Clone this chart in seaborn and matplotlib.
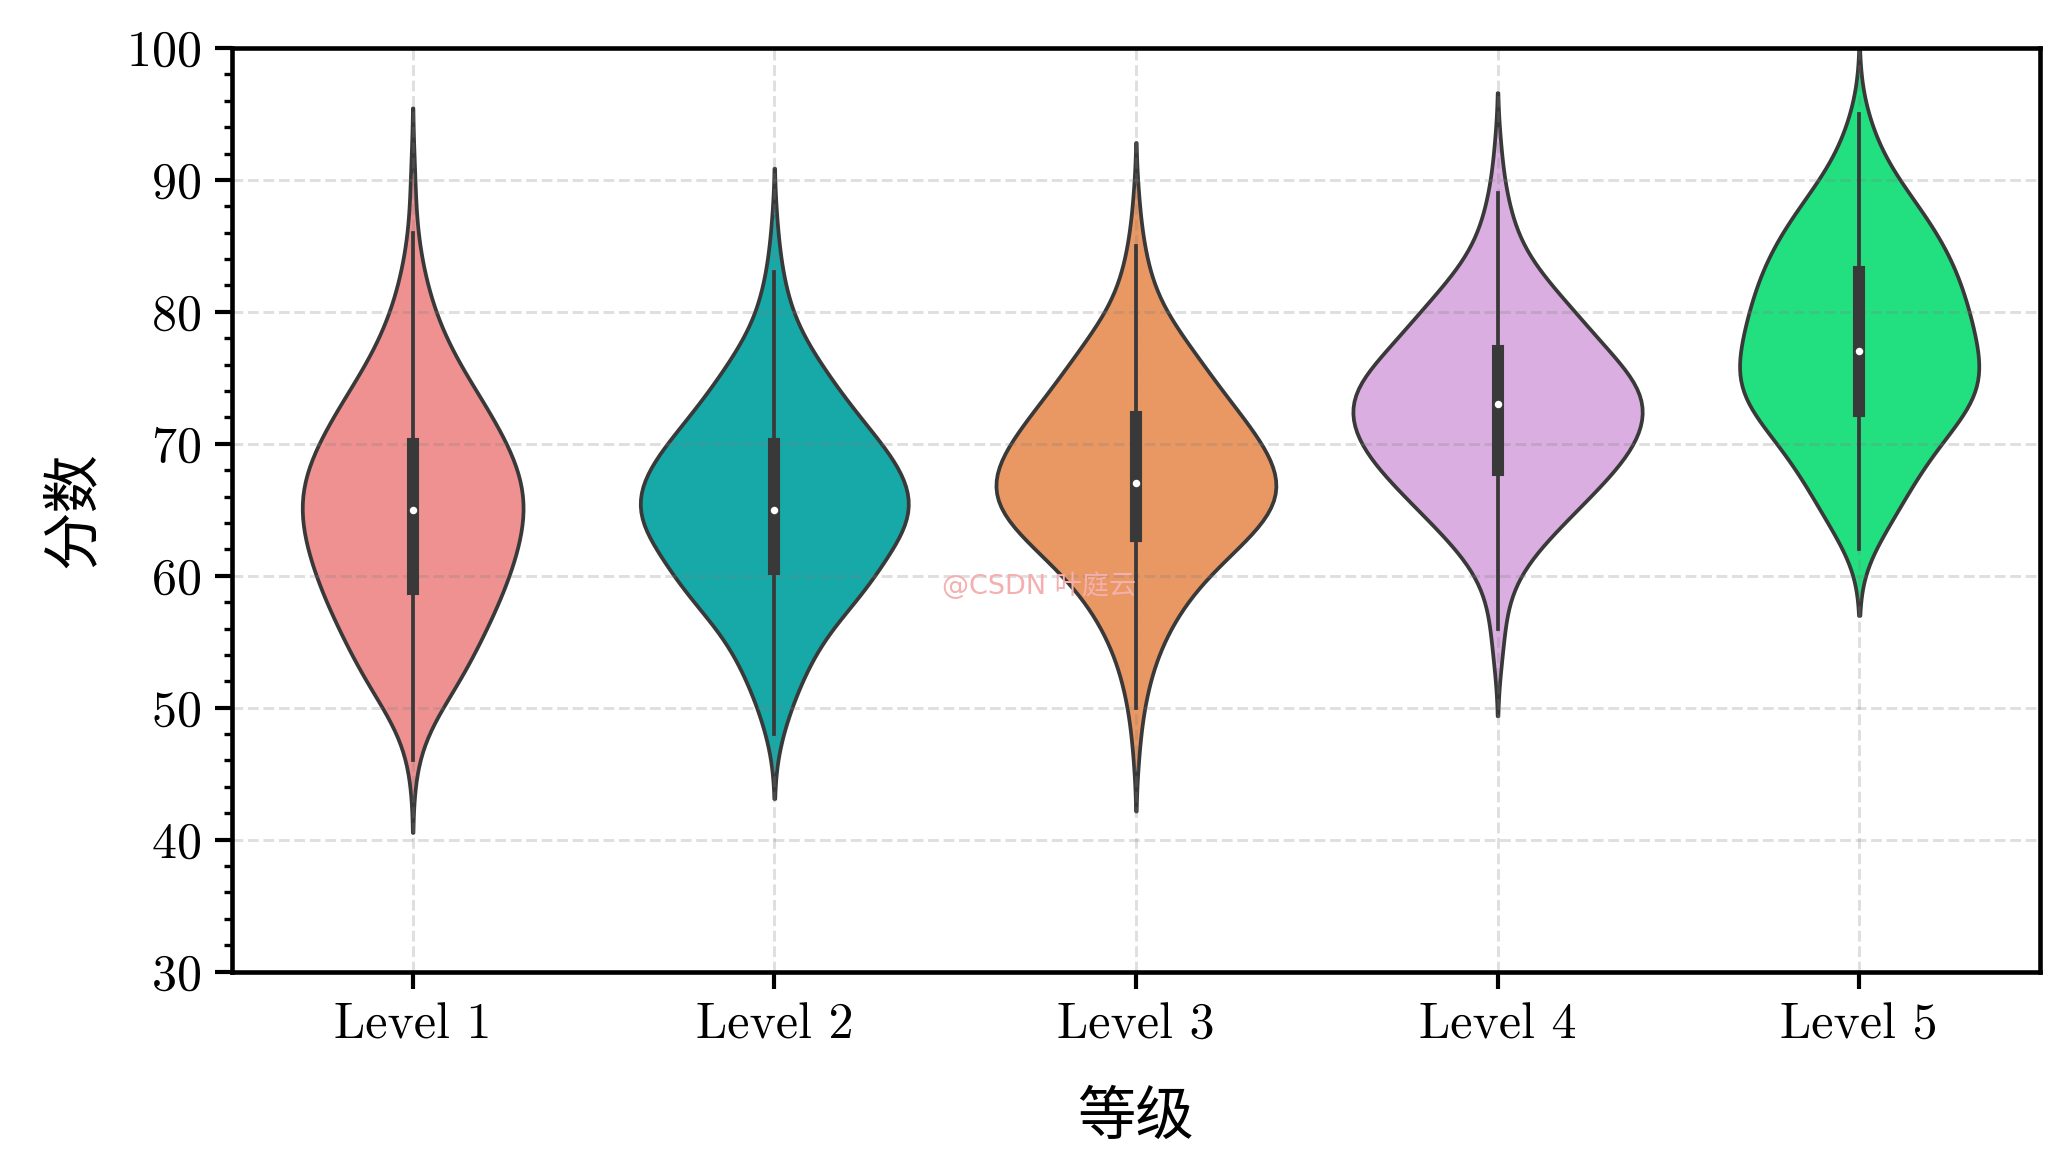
import matplotlib
matplotlib.use('Agg')
import matplotlib.pyplot as plt
from matplotlib.ticker import MultipleLocator
import seaborn as sns
import numpy as np
import pandas as pd

# score -> number of students, per level
scores_1 = [46, 48, 49, 50, 51, 52, 53, 54, 55, 56, 57, 58, 59, 60, 61, 62, 63, 64, 65, 66,
            67, 68, 69, 70, 71, 72, 73, 74, 75, 76, 77, 78, 79, 80, 81, 82, 83, 84, 86, 90]
counts_1 = [1, 1, 1, 3, 4, 5, 5, 6, 6, 7, 8, 8, 9, 9, 10, 10, 10, 11, 11, 11,
            11, 10, 10, 9, 8, 8, 7, 6, 5, 4, 4, 3, 2, 2, 2, 1, 1, 1, 1, 1]

scores_2 = [48, 49, 50, 51, 52, 53, 54, 55, 56, 57, 58, 59, 60, 61, 62, 63, 64, 65, 66, 67,
            68, 69, 70, 71, 72, 73, 74, 75, 76, 77, 78, 79, 80, 81, 82, 83, 86]
counts_2 = [1, 1, 1, 2, 2, 3, 3, 4, 4, 5, 7, 9, 9, 7, 10, 11, 12, 12, 12, 11,
            11, 10, 9, 8, 7, 6, 5, 5, 4, 3, 2, 2, 1, 1, 1, 1, 1]

scores_3 = [47, 50, 51, 52, 53, 54, 55, 56, 57, 58, 59, 60, 61, 62, 63, 64, 65, 66, 67, 68,
            69, 70, 71, 72, 73, 74, 75, 76, 77, 78, 79, 80, 81, 82, 83, 84, 85, 88]
counts_3 = [1, 1, 1, 1, 1, 2, 2, 3, 3, 4, 5, 6, 6, 9, 10, 11, 12, 13, 13, 12,
            11, 11, 10, 9, 8, 7, 6, 6, 5, 4, 3, 2, 2, 1, 1, 1, 1, 1]

scores_4 = [54, 56, 58, 59, 60, 61, 62, 63, 64, 65, 66, 67, 68, 69, 70, 71, 72, 73, 74, 75,
            76, 77, 78, 79, 80, 81, 82, 83, 84, 85, 86, 87, 88, 89, 92]
counts_4 = [1, 1, 1, 1, 1, 2, 3, 4, 5, 6, 7, 8, 9, 10, 11, 11, 11, 12, 12, 10,
            10, 8, 7, 7, 6, 5, 4, 3, 2, 2, 1, 1, 1, 1, 1]

scores_5 = [62, 63, 64, 65, 66, 67, 68, 69, 70, 71, 72, 73, 74, 75, 76, 77, 78, 79, 80, 81,
            82, 83, 84, 85, 86, 87, 88, 89, 90, 91, 92, 93, 94, 95]
counts_5 = [1, 2, 3, 3, 4, 4, 5, 6, 6, 7, 9, 10, 10, 11, 10, 9, 10, 9, 9, 9,
            8, 8, 8, 7, 6, 6, 5, 4, 3, 2, 2, 1, 1, 1]

levels = ['Level 1', 'Level 2', 'Level 3', 'Level 4', 'Level 5']
colors = ['#EF9191', '#17A8A8', '#E99763', '#DAAEE0', '#22DF80']

tables = [(scores_1, counts_1), (scores_2, counts_2), (scores_3, counts_3),
          (scores_4, counts_4), (scores_5, counts_5)]
frames = []
for lv, (s, c) in zip(levels, tables):
    vals = np.repeat(s, c)
    frames.append(pd.DataFrame({'等级': lv, '分数': vals}))
df = pd.concat(frames, ignore_index=True)

plt.rcParams['font.family'] = ['cmr10', 'Noto Sans CJK SC']
plt.rcParams['axes.formatter.use_mathtext'] = True
plt.rcParams['axes.unicode_minus'] = False

fig, ax = plt.subplots(figsize=(6.9, 3.907), dpi=300)
fig.subplots_adjust(left=0.112, right=0.9855, top=0.959, bottom=0.171)

sns.violinplot(data=df, x='等级', y='分数', hue='等级', palette=colors,
               saturation=1, legend=False, linewidth=0.9, common_norm=True, ax=ax,
               inner_kws=dict(box_width=2.9, whis_width=0.9, marker='.'))

ax.set_ylim(30, 100)
ax.yaxis.set_major_locator(MultipleLocator(10))
ax.yaxis.set_minor_locator(MultipleLocator(2))
ax.tick_params(axis='both', which='major', labelsize=12, length=4, width=1)
ax.tick_params(axis='y', which='minor', length=2, width=0.8)
ax.grid(True, linestyle='--', color='gray', alpha=0.25, linewidth=0.7)
for sp in ax.spines.values():
    sp.set_linewidth(1.1)

ax.set_xlabel('等级', fontsize=14, labelpad=10)
ax.set_ylabel('分数', fontsize=14, labelpad=6)

fig.text(0.502, 0.5, '@CSDN 叶庭云', color='#f4b0b0', fontsize=6.5,
         ha='center', va='center', family=['DejaVu Sans', 'Noto Sans CJK SC'])

fig.savefig('out.png', dpi=300)
